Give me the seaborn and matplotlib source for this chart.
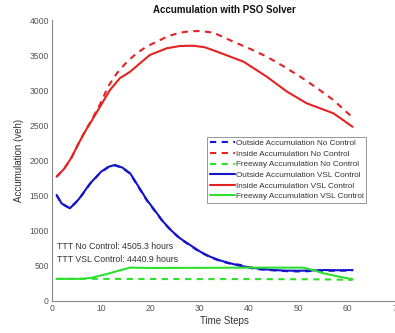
import matplotlib
matplotlib.use("Agg")
import matplotlib.pyplot as plt
import seaborn as sns
import pandas as pd

# ---- data ----
red_solid_x = [1, 2.5, 4, 5.5, 7, 7.8, 9.8, 11.8, 13.8, 15.9, 17.9, 19.9, 23.3, 26, 28.7, 31.1, 34.1, 38.9, 43.6, 47.7, 51.7, 57.1, 61]
red_solid_y = [1770, 1880, 2040, 2250, 2440, 2530, 2766, 3003, 3170, 3264, 3384, 3502, 3597, 3630, 3634, 3611, 3534, 3406, 3193, 2980, 2814, 2672, 2480]

red_dash_x = [1, 2.5, 4, 5.5, 7, 7.8, 9.8, 11.5, 13.2, 15.2, 17.2, 19.2, 21.3, 23.6, 26, 28, 30.1, 32.8, 36.8, 40.2, 43.6, 47, 50.4, 53.8, 57.1, 60.8]
red_dash_y = [1770, 1880, 2040, 2250, 2450, 2540, 2800, 3060, 3241, 3400, 3526, 3620, 3692, 3770, 3820, 3840, 3843, 3820, 3692, 3590, 3478, 3340, 3193, 3030, 2861, 2624]

blue_solid_x = [1, 2, 3.7, 5.5, 7.8, 10, 11.5, 12.8, 14.3, 15.9, 17.5, 19.3, 21, 22.6, 24.3, 26, 28.05, 30.1, 32.1, 34, 36.2, 38.2, 40.2, 42.5, 45, 47.5, 50.4, 53, 55.1, 58, 61]
blue_solid_y = [1509, 1390, 1320, 1450, 1675, 1840, 1910, 1936, 1900, 1818, 1640, 1438, 1280, 1129, 1000, 893, 797, 702, 631, 580, 537, 500, 479, 455, 441, 432, 431, 435, 441, 438, 441]

blue_dash_x = [1, 2, 3.7, 5.5, 7.8, 10, 11.5, 12.8, 14.3, 15.9, 17.5, 19.3, 21, 22.6, 24.3, 26, 28.05, 30.1, 32.1, 34, 36.2, 38.2, 40.2, 42.5, 45, 47.5, 50.4, 53, 55.1, 58, 61]
blue_dash_y = [1505, 1385, 1318, 1445, 1670, 1835, 1905, 1932, 1895, 1812, 1632, 1430, 1272, 1122, 995, 888, 790, 695, 625, 574, 530, 515, 470, 448, 436, 425, 420, 428, 432, 430, 435]

green_dash_x = [1, 10, 20, 30, 40, 50, 55, 61]
green_dash_y = [315, 315, 313, 312, 312, 310, 308, 300]

green_solid_x = [1, 6, 8, 11.2, 14, 15.9, 20, 30, 40, 51, 53, 55.1, 58, 61]
green_solid_y = [315, 315, 330, 384, 440, 475, 470, 472, 475, 475, 440, 394, 350, 309]

labels = ["Outside Accumulation No Control", "Inside Accumulation No Control",
          "Freeway Accumulation No Control", "Outside Accumulation VSL Control",
          "Inside Accumulation VSL Control", "Freeway Accumulation VSL Control"]
ttt_texts = ["TTT No Control: 4505.3 hours", "TTT VSL Control: 4440.9 hours"]
x_ticks = [0, 10, 20, 30, 40, 50, 60, 70]
y_ticks = [0, 500, 1000, 1500, 2000, 2500, 3000, 3500, 4000]

# ---- style ----
sns.set_style("white")
plt.rcParams["font.family"] = ["Liberation Sans", "DejaVu Sans"]

BLUE = "#1515c8"
RED = "#e52222"
GREEN = "#2ee02e"
GREY = "#555555"

fig = plt.figure(figsize=(3.95, 3.33), dpi=100)
ax = fig.add_axes([51.7 / 395, 32 / 333, 345.3 / 395, 281 / 333])

series = [
    (blue_dash_x, blue_dash_y, BLUE, "--", labels[0]),
    (red_dash_x, red_dash_y, RED, "--", labels[1]),
    (green_dash_x, green_dash_y, GREEN, "--", labels[2]),
    (blue_solid_x, blue_solid_y, BLUE, "-", labels[3]),
    (red_solid_x, red_solid_y, RED, "-", labels[4]),
    (green_solid_x, green_solid_y, GREEN, "-", labels[5]),
]
for xs, ys, col, ls, lab in series:
    df = pd.DataFrame({"t": xs, "v": ys})
    sns.lineplot(data=df, x="t", y="v", ax=ax, color=col, linewidth=1.5,
                 label=lab, estimator=None, sort=False)
    l = ax.get_lines()[-1]
    if ls == "--":
        l.set_dashes((3, 2.6))

ax.set_xlim(0, 70)
ax.set_ylim(0, 4000)
ax.set_xticks(x_ticks)
ax.set_yticks(y_ticks)
ax.tick_params(direction="in", length=3, width=0.6, colors=GREY, labelsize=6.2,
               labelcolor=GREY, pad=2)
for s in ["top", "right"]:
    ax.spines[s].set_visible(False)
for s in ["left", "bottom"]:
    ax.spines[s].set_color("#888888")
    ax.spines[s].set_linewidth(0.8)

ax.set_xlabel("Time Steps", fontsize=7, color="#333333", labelpad=2)
ax.set_ylabel("Accumulation (veh)", fontsize=7, color="#333333", labelpad=4)
ax.set_title("Accumulation with PSO Solver", fontsize=7, fontweight="bold", color="#111111", pad=5)

ax.text(1, 773, ttt_texts[0], fontsize=6.3, color="#333333", va="center", ha="left")
ax.text(1, 584, ttt_texts[1], fontsize=6.3, color="#333333", va="center", ha="left")

leg = ax.legend(loc="upper left", bbox_to_anchor=(0.449, 0.585), fontsize=5.9,
                frameon=True, fancybox=False, framealpha=1, edgecolor="#888888",
                handlelength=3.1, handletextpad=0.1, labelspacing=0.35,
                borderpad=0.35, borderaxespad=0)
leg.get_frame().set_linewidth(0.6)
for t in leg.get_texts():
    t.set_color("#333333")

fig.savefig("out.png", dpi=100)
